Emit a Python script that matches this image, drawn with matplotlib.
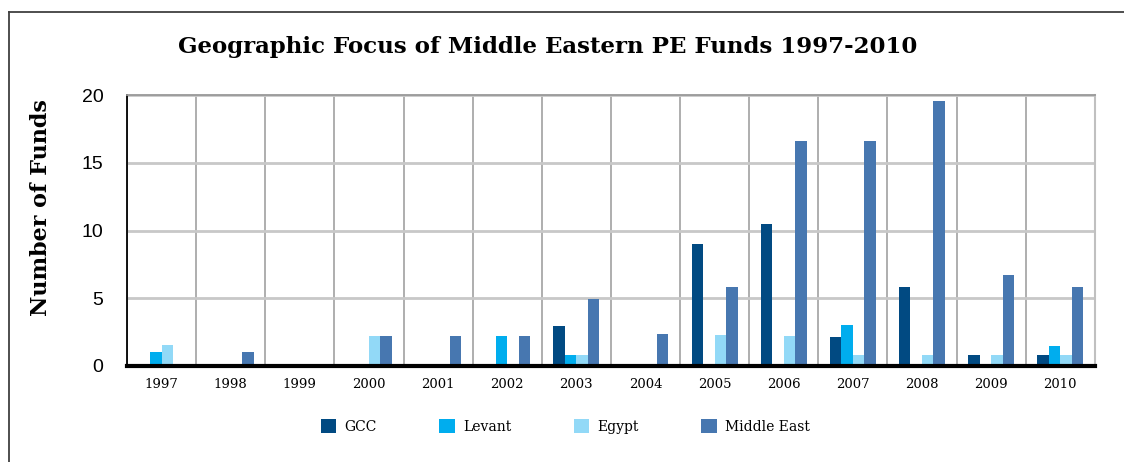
import matplotlib.pyplot as plt
import numpy as np
from matplotlib.lines import Line2D
from matplotlib.patches import Patch

years = ["1997", "1998", "1999", "2000", "2001", "2002", "2003",
         "2004", "2005", "2006", "2007", "2008", "2009", "2010"]
gcc = [0, 0, 0, 0, 0, 0, 2.95, 0, 9.0, 10.5, 2.15, 5.85, 0.8, 0.8]
levant = [1.05, 0, 0, 0, 0, 2.2, 0.8, 0, 0, 0, 3.05, 0, 0, 1.5]
egypt = [1.55, 0, 0, 2.2, 0, 0, 0.8, 0, 2.3, 2.2, 0.8, 0.8, 0.8, 0.8]
middle_east = [0, 1.05, 0, 2.2, 2.2, 2.2, 4.95, 2.35, 5.85, 16.65, 16.65, 19.6, 6.7, 5.85]

series = [("GCC", gcc, "#014a82"),
          ("Levant", levant, "#00adee"),
          ("Egypt", egypt, "#92d9f7"),
          ("Middle East", middle_east, "#4777b0")]

fig = plt.figure(figsize=(11.24, 4.62), dpi=100)
ax = fig.add_axes([0.113, 0.208, 0.861, 0.586])

x = np.arange(len(years))
w = 0.166
for i, (name, vals, col) in enumerate(series):
    ax.bar(x + (i - 1.5) * w, vals, width=w, color=col, label=name, zorder=3)

ax.set_xlim(-0.5, len(years) - 0.5)
ax.set_ylim(0, 20)
ax.set_yticks([0, 5, 10, 15, 20])
ax.set_xticks(x)
ax.set_xticklabels(years, family="DejaVu Serif", fontsize=9.5)
for lab in ax.get_yticklabels():
    lab.set_family("Liberation Sans")
    lab.set_fontsize(14)
ax.tick_params(axis="both", length=0)
ax.tick_params(axis="y", pad=17)
ax.tick_params(axis="x", pad=9)

# grid: light horizontal lines, darker vertical lines between categories
ax.set_xticks(np.arange(len(years) + 1) - 0.5, minor=True)
ax.tick_params(axis="x", which="minor", length=0)
ax.grid(axis="y", color="#c8c8c8", lw=2, zorder=0)
ax.grid(axis="x", which="minor", color="#a8a8a8", lw=1.3, zorder=0)
ax.grid(axis="x", which="major", visible=False)

ax.spines["top"].set_color("#999999")
ax.spines["top"].set_linewidth(1.3)
ax.spines["right"].set_color("#c0c0c0")
ax.spines["right"].set_linewidth(1.5)
ax.spines["left"].set_color("black")
ax.spines["left"].set_linewidth(1.3)
ax.spines["bottom"].set_color("black")
ax.spines["bottom"].set_linewidth(3)
ax.spines["bottom"].set_zorder(5)

ax.set_ylabel("Number of Funds", family="DejaVu Serif", fontweight="heavy",
              fontsize=16)
ax.yaxis.set_label_coords(-0.077, 0.585)
fig.text(0.4875, 0.898, "Geographic Focus of Middle Eastern PE Funds 1997-2010",
         ha="center", va="center", family="DejaVu Serif", fontweight="heavy",
         fontsize=16.5)

handles = [Patch(facecolor=c, edgecolor="none") for _, _, c in series]
fig.legend(handles, [s[0] for s in series], loc="center", ncol=4,
           bbox_to_anchor=(0.503, 0.077), frameon=False,
           prop={"family": "DejaVu Serif", "size": 10},
           handlelength=1.1, handleheight=1.1, handletextpad=0.6,
           columnspacing=4.5)

# outer frame of the exhibit (runs off the right and bottom edge)
fig.add_artist(Line2D([9 / 1124, 9 / 1124], [0, 1 - 12 / 462],
                      transform=fig.transFigure, color="#404040", lw=1.3))
fig.add_artist(Line2D([9 / 1124, 1], [1 - 12 / 462, 1 - 12 / 462],
                      transform=fig.transFigure, color="#404040", lw=1.3))

fig.savefig("out.png", dpi=100)
